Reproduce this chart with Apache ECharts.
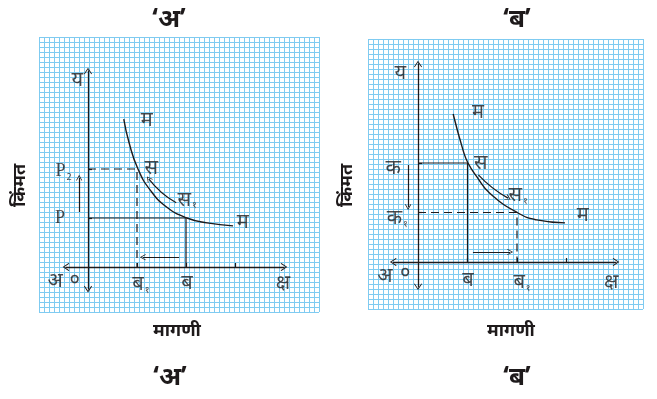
<!DOCTYPE html>
<html>
<head>
<meta charset="utf-8">
<script src="https://cdn.jsdelivr.net/npm/echarts@6/dist/echarts.min.js"></script>
<style>
  html, body { margin: 0; padding: 0; background: #fff; }
  #chart { width: 657px; height: 399px; }
</style>
</head>
<body>
<div id="chart"></div>
<script>
// demand curves (units: quantity, price)
const leftCurve = [[0.73, 3.02], [0.84, 2.53], [1.02, 2.0], [1.27, 1.57], [1.61, 1.22], [2.02, 1.0], [2.43, 0.9], [2.96, 0.84]];
const rightCurve = [[0.71, 2.99], [0.91, 2.26], [1.01, 2.0], [1.19, 1.72], [1.45, 1.39], [2.02, 0.99], [2.4, 0.85], [2.97, 0.79]];

// guide lines from axes to the curve
const leftDashed = [[0, 2], [1, 2], [1, 0]];
const leftSolid = [[0, 1], [2, 1], [2, 0]];
const rightSolid = [[0, 2], [1, 2], [1, 0]];
const rightDashed = [[0, 1], [2, 1], [2, 0]];

// arrows [from, to, curveness]
const leftArrows = [[[-0.18, 1.12], [-0.18, 1.82], 0], [[1.86, 0.2], [1.12, 0.2], 0], [[1.8, 1.31], [1.24, 1.8], 0.1]];
const rightArrows = [[[-0.2, 1.96], [-0.2, 1.11], 0], [[1.11, 0.2], [1.86, 0.2], 0], [[1.22, 1.76], [1.82, 1.29], -0.08]];

// point labels [x, y, text]
const leftLabels = [
  [-0.22, 3.82, 'य'], [1.2, 3.0, 'म'], [-0.5, 1.96, '{l|P}{s|2}'], [1.29, 2.02, 'स'],
  [2.02, 1.37, 'स{s|१}'], [-0.57, 1.0, '{l|P}'], [3.16, 0.92, 'म'], [-0.67, -0.29, 'अ'],
  [-0.27, -0.27, '०'], [1.08, -0.35, 'ब{s|१}'], [2.02, -0.33, 'ब'], [3.98, -0.33, 'क्ष']
];
const rightLabels = [
  [-0.36, 3.82, 'य'], [1.21, 3.03, 'म'], [-0.5, 1.9, 'क'], [1.27, 2.0, 'स'],
  [2.02, 1.35, 'स{s|१}'], [-0.42, 0.89, 'क{s|१}'], [3.33, 0.95, 'म'], [-0.67, -0.28, 'अ'],
  [-0.26, -0.22, '०'], [1.01, -0.36, 'ब'], [2.1, -0.42, 'ब{s|१}'], [3.9, -0.4, 'क्ष']
];

const xTicks = [1, 2, 3];
const yTicks = [1, 2];

const ink = '#1e1a1b';
const gridBlue = '#7fcbf1';
const chevron = 'path://M0,0 L6,9 L5,10 L0,2.4 L-5,10 L-6,9 Z';
const deva = '"Noto Sans", "DejaVu Sans", sans-serif';

function paperAxis(idx, max) {
  return {
    type: 'value', gridIndex: idx, min: 0, max: max, interval: 1,
    axisLine: { show: false }, axisTick: { show: false }, axisLabel: { show: false },
    splitLine: { show: true, lineStyle: { color: gridBlue, width: 1 } }
  };
}
function diagramAxis(idx, min, max, ticks) {
  return {
    type: 'value', gridIndex: idx, min: min, max: max, z: 3,
    axisLine: { show: true, onZero: true, symbol: [chevron, chevron], symbolSize: [8, 7],
      lineStyle: { color: ink, width: 1.3 } },
    axisTick: { show: true, inside: true, length: 4, customValues: ticks, lineStyle: { color: ink, width: 1.2 } },
    axisLabel: { show: false },
    splitLine: { show: false }
  };
}
function lineSeries(i, data, dashed, smooth) {
  return {
    type: 'line', xAxisIndex: i, yAxisIndex: i, data: data, smooth: smooth, clip: false,
    symbol: 'none', silent: true, z: 4,
    lineStyle: { color: ink, width: smooth ? 1.4 : 1.2, type: dashed ? [8, 5] : 'solid' }
  };
}
function arrowSeries(i, arrows) {
  return arrows.map(a => ({
    type: 'lines', xAxisIndex: i, yAxisIndex: i, coordinateSystem: 'cartesian2d', z: 4,
    symbol: ['none', chevron], symbolSize: [7, 6], silent: true,
    lineStyle: { color: ink, width: 1.2, curveness: a[2], opacity: 1 },
    data: [{ coords: [a[0], a[1]] }]
  }));
}
function labelSeries(i, labels) {
  return {
    type: 'scatter', xAxisIndex: i, yAxisIndex: i, clip: false, symbolSize: 1, z: 5,
    itemStyle: { color: 'rgba(0,0,0,0)' }, silent: true,
    data: labels.map(l => ({ value: [l[0], l[1]], name: l[2] })),
    label: {
      show: true, position: 'inside', formatter: p => p.name,
      color: ink, fontSize: 20, fontFamily: deva,
      rich: {
        l: { fontFamily: '"Liberation Serif", serif', fontSize: 18, color: ink },
        s: { fontSize: 9, color: ink, padding: [12, 0, 0, 1] }
      }
    }
  };
}

const chart = echarts.init(document.getElementById('chart'), null, { renderer: 'canvas' });
chart.setOption({
  backgroundColor: '#fff',
  animation: false,
  title: [
    { text: '‘अ’', left: 164, top: 2, textAlign: 'center', textStyle: { fontSize: 26, fontWeight: 'bold', color: ink, fontFamily: deva } },
    { text: '‘ब’', left: 512, top: 2, textAlign: 'center', textStyle: { fontSize: 26, fontWeight: 'bold', color: ink, fontFamily: deva } },
    { text: '‘अ’', left: 165, top: 360, textAlign: 'center', textStyle: { fontSize: 26, fontWeight: 'bold', color: ink, fontFamily: deva } },
    { text: '‘ब’', left: 512, top: 360, textAlign: 'center', textStyle: { fontSize: 26, fontWeight: 'bold', color: ink, fontFamily: deva } }
  ],
  graphic: [
    { type: 'text', left: 153, top: 322, style: { text: 'मागणी', fontSize: 18, fontWeight: 'bold', fill: ink, fontFamily: deva } },
    { type: 'text', left: 487, top: 322, style: { text: 'मागणी', fontSize: 18, fontWeight: 'bold', fill: ink, fontFamily: deva } },
    { type: 'text', x: 11, y: 207, rotation: Math.PI / 2, style: { text: 'किंमत', fontSize: 18, fontWeight: 'bold', fill: ink, fontFamily: deva } },
    { type: 'text', x: 338, y: 207, rotation: Math.PI / 2, style: { text: 'किंमत', fontSize: 18, fontWeight: 'bold', fill: ink, fontFamily: deva } }
  ],
  grid: [
    { left: 39, top: 37, width: 280, height: 275, show: true, backgroundColor: '#fff', borderWidth: 0 },
    { left: 368, top: 39, width: 275, height: 270, show: true, backgroundColor: '#fff', borderWidth: 0 },
    { left: 65.95, top: 71, width: 218.05, height: 218.05 },
    { left: 393.25, top: 64, width: 222.75, height: 222.75 }
  ],
  xAxis: [
    paperAxis(0, 56), paperAxis(1, 55),
    diagramAxis(2, -0.45, 4, xTicks), diagramAxis(3, -0.5, 4, xTicks)
  ],
  yAxis: [
    paperAxis(0, 55), paperAxis(1, 54),
    diagramAxis(2, -0.45, 4, yTicks), diagramAxis(3, -0.5, 4, yTicks)
  ],
  series: [
    lineSeries(2, leftCurve, false, true),
    lineSeries(2, leftDashed, true, false),
    lineSeries(2, leftSolid, false, false),
    lineSeries(3, rightCurve, false, true),
    lineSeries(3, rightSolid, false, false),
    lineSeries(3, rightDashed, true, false),
    ...arrowSeries(2, leftArrows),
    ...arrowSeries(3, rightArrows),
    labelSeries(2, leftLabels),
    labelSeries(3, rightLabels)
  ]
});
</script>
</body>
</html>
